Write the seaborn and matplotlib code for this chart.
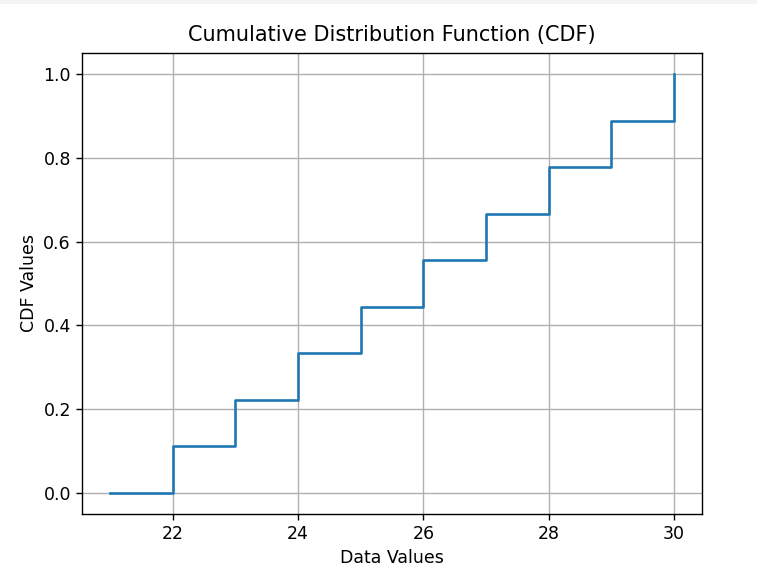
import matplotlib
matplotlib.use("Agg")
import matplotlib.pyplot as plt
from matplotlib.patches import Rectangle
import seaborn as sns
import pandas as pd

data_values = [21, 22, 23, 24, 25, 26, 27, 28, 29, 30]
cdf_values = [0.0, 1/9, 2/9, 3/9, 4/9, 5/9, 6/9, 7/9, 8/9, 1.0]

df = pd.DataFrame({"x": data_values, "cdf": cdf_values})

fig = plt.figure(figsize=(7.57, 5.75), dpi=100)
fig.patches.append(Rectangle((0, 1 - 4/575), 1, 4/575, transform=fig.transFigure,
                             facecolor="#f4f4f4", edgecolor="none", zorder=0))
ax = fig.add_axes([82/757, 1 - 514/575, 620/757, 461/575])
sns.lineplot(data=df, x="x", y="cdf", drawstyle="steps-post", ax=ax,
             color="#1f77b4", linewidth=1.9)
ax.set_title("Cumulative Distribution Function (CDF)", fontsize=15, pad=9)
ax.set_xlabel("Data Values", fontsize=12.5)
ax.set_ylabel("CDF Values", fontsize=12.5)
ax.tick_params(labelsize=12.5, length=4.5, width=1)
ax.grid(True, color="#b0b0b0", linewidth=1)
for s in ax.spines.values():
    s.set_linewidth(1)
fig.savefig("out.png", dpi=100)
